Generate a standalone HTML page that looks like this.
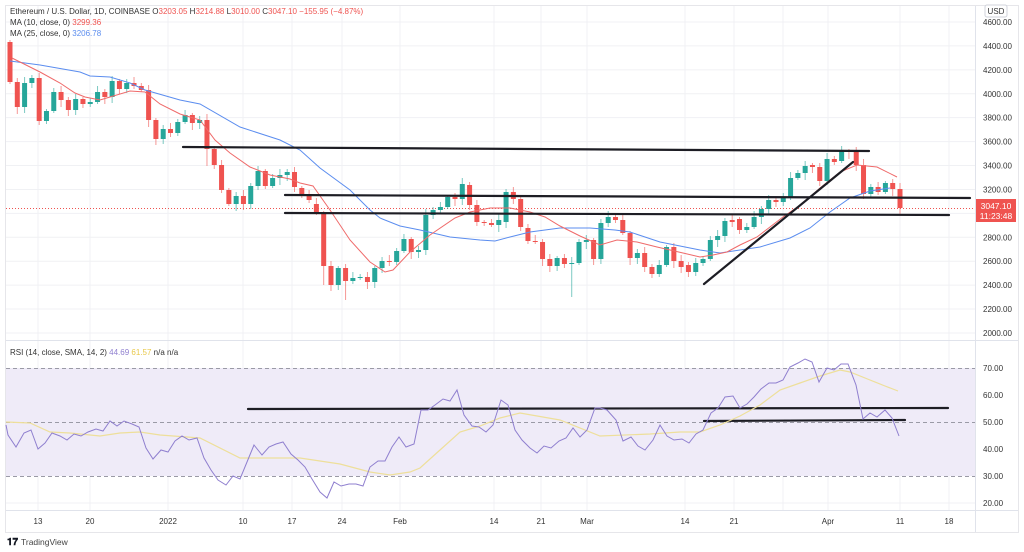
<!DOCTYPE html>
<html><head><meta charset="utf-8"><style>
html,body{margin:0;padding:0;background:#fff;width:1024px;height:552px;overflow:hidden}
svg{display:block;font-family:"Liberation Sans",sans-serif}
</style></head><body>
<svg id="s" width="1024" height="552" xmlns="http://www.w3.org/2000/svg">
<rect x="0" y="0" width="1024" height="552" fill="#fff"/>
<rect x="5.5" y="5.5" width="1013" height="527" fill="none" stroke="#e6e6ea"/>
<g id="grid" stroke="#f0f1f4" stroke-width="1"></g>
<rect x="6" y="368" width="969" height="108" fill="#efebf8"/>
<g stroke="#9a9aa6" stroke-width="1" stroke-dasharray="4,3">
<line x1="6" y1="368.5" x2="975" y2="368.5"/><line x1="6" y1="422.5" x2="975" y2="422.5"/><line x1="6" y1="476.5" x2="975" y2="476.5"/>
</g>
<line x1="6" y1="340.5" x2="1018" y2="340.5" stroke="#e0e3eb"/>
<line x1="975.5" y1="6" x2="975.5" y2="532" stroke="#e0e3eb"/>
<line x1="6" y1="510.5" x2="1018" y2="510.5" stroke="#e0e3eb"/>
<line x1="6" y1="208.5" x2="975" y2="208.5" stroke="#ef5350" stroke-width="1" stroke-dasharray="1,2"/>
<g id="candles"></g>
<polyline id="ma25" fill="none" stroke="#5b8def" stroke-width="1"/>
<polyline id="ma10" fill="none" stroke="#ef6a6a" stroke-width="1"/>
<g stroke="#1d1d24" stroke-width="2.2" stroke-linecap="round">
<line x1="183" y1="147" x2="869" y2="151"/>
<line x1="285" y1="195" x2="970" y2="198"/>
<line x1="285" y1="213" x2="949" y2="215"/>
<line x1="704" y1="284" x2="853" y2="162"/>
<line x1="248" y1="409" x2="948" y2="408"/>
<line x1="704" y1="421" x2="905" y2="420"/>
</g>
<polyline id="rsisma" fill="none" stroke="#eedf9a" stroke-width="1.2"/>
<polyline id="rsi" fill="none" stroke="#8f7fcf" stroke-width="1"/>
<g id="labels" font-size="8" fill="#333"></g>
<rect x="976" y="199" width="40" height="23" fill="#ef5350"/>
<text x="996" y="209" font-size="8.5" fill="#fff" text-anchor="middle">3047.10</text>
<text x="996" y="219" font-size="8.5" fill="#fff" text-anchor="middle">11:23:48</text>
<rect x="985" y="5" width="22" height="12" rx="2" fill="#fff" stroke="#d0d3db"/>
<text x="996" y="14" font-size="8" fill="#333" text-anchor="middle">USD</text>
<text x="10" y="14" font-size="8" fill="#333">Ethereum / U.S. Dollar, 1D, COINBASE  <tspan fill="#333">O</tspan><tspan fill="#ef5350">3203.05</tspan> <tspan fill="#333">H</tspan><tspan fill="#ef5350">3214.88</tspan> <tspan fill="#333">L</tspan><tspan fill="#ef5350">3010.00</tspan> <tspan fill="#333">C</tspan><tspan fill="#ef5350">3047.10</tspan> <tspan fill="#ef5350">−155.95 (−4.87%)</tspan></text>
<text x="10" y="25" font-size="8" fill="#333">MA (10, close, 0) <tspan fill="#ef5350">3299.36</tspan></text>
<text x="10" y="36" font-size="8" fill="#333">MA (25, close, 0) <tspan fill="#5b8def">3206.78</tspan></text>
<text x="10" y="355" font-size="8" fill="#333">RSI (14, close, SMA, 14, 2) <tspan fill="#8f7fcf">44.69</tspan> <tspan fill="#e8c84a">61.57</tspan> n/a  n/a</text>
<text x="7" y="545" font-size="10" font-weight="bold" fill="#131722">𝟏𝟕</text>
<text x="21" y="545" font-size="8.5" fill="#444">TradingView</text>
</svg>
<script>
var NS="http://www.w3.org/2000/svg";
function el(t,a,p){var e=document.createElementNS(NS,t);for(var k in a)e.setAttribute(k,a[k]);(p||document.getElementById('s')).appendChild(e);return e;}
var grid=document.getElementById('grid'),lab=document.getElementById('labels');
// price grid & labels
for(var p=2000;p<=4600;p+=200){var y=22+(4600-p)*0.1196;el('line',{x1:6,y1:y,x2:975,y2:y},grid);var t=el('text',{x:983,y:y+3},lab);t.textContent=p.toFixed(2);}
[70,60,50,40,30,20].forEach(function(v){var y=503-(v-20)*2.7;if(v==60||v==40||v==20)el('line',{x1:6,y1:y,x2:975,y2:y},grid);var t=el('text',{x:983,y:y+3},lab);t.textContent=v.toFixed(2);});
var dates=[[38,"13"],[90,"20"],[168,"2022"],[243,"10"],[292,"17"],[342,"24"],[400,"Feb"],[494,"14"],[541,"21"],[587,"Mar"],[685,"14"],[734,"21"],[828,"Apr"],[900,"11"],[949,"18"]];
dates.forEach(function(d){el('line',{x1:d[0],y1:6,x2:d[0],y2:510},grid);var t=el('text',{x:d[0],y:524,'text-anchor':'middle'},lab);t.textContent=d[1];});
el('line',{x1:783,y1:6,x2:783,y2:510},grid);
// candles: pairs open,close (y px)
var C=[[42,82],[82,107],[107,83],[83,78],[78,121],[121,111],[111,92],[92,100],[100,110],[110,99],[99,104],[104,102],[102,92],[92,97],[97,81],[81,89],[89,83],[83,86],[86,90],[90,120],[120,139],[139,129],[129,133],[133,122],[122,115],[115,123],[123,120],[120,149],[149,165],[165,190],[190,204],[204,196],[196,204],[204,186],[186,171],[171,186],[186,178],[178,175],[175,172],[172,187],[188,194],[194,200],[204,213],[214,266],[266,285],[285,268],[268,281],[281,278],[278,277],[277,282],[282,268],[268,261],[261,262],[262,251],[251,239],[239,252],[252,250],[250,215],[215,210],[210,207],[207,197],[197,199],[199,184],[185,205],[205,222],[222,223],[223,225],[225,220],[222,192],[192,199],[199,227],[228,241],[241,242],[242,259],[259,266],[266,258],[258,264],[264,263],[263,242],[242,240],[240,259],[259,223],[223,217],[217,220],[220,233],[233,258],[258,253],[253,267],[267,274],[274,265],[265,247],[247,261],[261,267],[265,272],[272,263],[263,259],[259,240],[240,236],[236,221],[220,222],[219,230],[230,227],[227,217],[217,209],[209,200],[200,202],[202,197],[197,178],[178,173],[173,166],[165,167],[167,181],[181,159],[159,162],[161,151],[151,152],[151,165],[165,194],[194,187],[187,192],[192,183],[183,189],[189,208]];
var cg=document.getElementById('candles');var n=C.length;
C.forEach(function(c,i){var x=10+i*(890/(n-1));var up=c[1]<c[0];var col=up?'#26a69a':'#ef5350';var top=Math.min(c[0],c[1]),bot=Math.max(c[0],c[1]);
var h=top-2-((i*7)%5),l=bot+2+((i*11)%6);if(i==27||i==43||i==77)l+=12;if(i==46)l=300;if(i==77)l=297;
el('line',{x1:x,y1:h,x2:x,y2:l,stroke:col,'stroke-width':1,opacity:0.6},cg);
el('rect',{x:x-2.5,y:top,width:5,height:Math.max(1,bot-top),fill:col},cg);});
function pl(id,s){document.getElementById(id).setAttribute('points',s);}
pl('ma25',"10,61 40,65 80,72 90,76 110,77 130,83 145,90 180,100 200,104 240,127 280,140 300,150 320,168 350,190 370,210 380,218 400,226 420,230 450,237 480,240 495,241 510,237 530,232 560,228 590,228 615,230 630,232 660,242 700,250 720,253 760,247 790,238 810,228 830,212 850,198 870,191 890,188");
pl('ma10',"12,58 40,72 60,83 75,93 85,97 100,100 110,97 130,91 145,92 160,104 180,114 200,120 215,140 230,153 250,167 270,175 290,179 300,183 313,186 330,210 350,240 370,262 385,272 393,270 410,252 430,235 455,218 470,212 490,208 510,208 530,212 545,217 560,226 580,236 600,245 617,240 637,242 657,247 683,253 700,257 713,255 727,252 740,245 757,237 783,217 803,203 820,188 840,172 857,165 877,167 897,177");
pl('rsi',"6,425 8,435 16,447 24,433 31,430 38,449 45,443 52,433 60,436 67,440 74,434 81,436 88,432 96,429 103,431 110,421 117,426 124,421 132,424 139,427 146,448 153,459 161,450 168,452 175,441 182,436 189,440 197,438 204,458 211,470 218,480 226,485 233,476 240,479 247,462 254,445 262,455 269,447 276,444 283,442 291,454 298,460 305,467 312,479 320,492 327,498 334,482 341,486 349,484 356,484 363,486 370,467 378,461 385,461 392,447 399,437 406,447 414,444 421,410 428,410 435,405 443,399 450,401 457,390 464,415 472,426 479,427 486,432 493,425 501,400 508,405 515,430 522,440 530,448 537,453 544,446 551,448 559,441 566,438 573,428 580,437 587,430 595,408 600,408 607,410 616,420 623,441 631,437 638,446 645,450 653,440 660,425 667,436 674,440 682,439 689,443 696,434 703,430 711,413 718,408 725,397 733,396 740,408 747,404 754,397 761,389 769,383 776,383 783,380 790,367 798,363 805,359 812,362 819,382 827,368 834,370 841,364 848,364 856,385 863,419 870,413 877,417 885,410 892,418 899,436");
pl('rsisma',"6,422 30,423 50,432 70,433 100,436 120,433 140,432 160,435 200,438 240,458 300,458 340,464 370,472 390,475 410,472 420,468 440,450 460,432 480,426 500,418 520,413 560,420 600,436 650,434 680,432 700,432 720,425 740,416 760,405 780,390 800,383 820,376 840,370 850,372 870,380 885,386 898,391");
</script>
</body></html>
